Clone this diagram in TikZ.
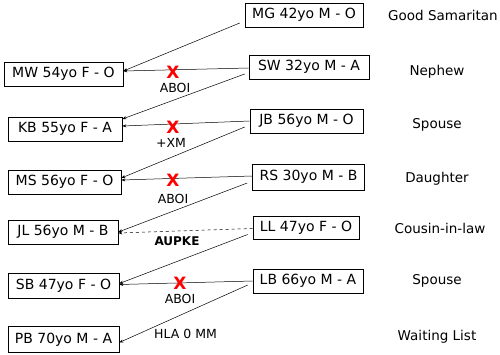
\documentclass[tikz,border=0pt]{standalone}
\usepackage{fontspec}
\setmainfont{DejaVu Sans}
\usetikzlibrary{arrows.meta}
\begin{document}
\begin{tikzpicture}[x=1pt,y=-1pt,
  pbox/.style={draw, line width=0.6pt, inner sep=0pt, minimum height=24pt, font=\fontsize{14}{16}\selectfont},
  rel/.style={inner sep=0pt, font=\fontsize{13.5}{15}\selectfont},
  lab/.style={inner sep=0pt, font=\fontsize{12.5}{14}\selectfont},
  xmark/.style={inner sep=0pt, text=red, font=\fontsize{17}{19}\selectfont\bfseries},
  conn/.style={line width=0.5pt, -{Stealth[length=4pt,width=3pt]}},
]
\useasboundingbox (0,0) rectangle (500,354);
% left boxes
\node[pbox, minimum width=119pt] (MW) at (63.5,74) {MW 54yo F - O};
\node[pbox, minimum width=114pt] (KB) at (65,129) {KB 55yo F - A};
\node[pbox, minimum width=113pt] (MS) at (64.5,182) {MS 56yo F - O};
\node[pbox, minimum width=110pt] (JL) at (63,232) {JL 56yo M - B};
\node[pbox, minimum width=111pt, minimum height=25pt] (SB) at (63.5,285.5) {SB 47yo F - O};
\node[pbox, minimum width=111pt, minimum height=26pt] (PB) at (63.5,339.5) {PB 70yo M - A};
% right boxes
\node[pbox, minimum width=118pt] (MG) at (304,15) {MG 42yo M - O};
\node[pbox, minimum width=120pt] (SW) at (309,67) {SW 32yo M - A};
\node[pbox, minimum width=113pt] (JB) at (306.5,121) {JB 56yo M - O};
\node[pbox, minimum width=112pt, minimum height=26pt] (RS) at (308.5,177) {RS 30yo M - B};
\node[pbox, minimum width=106pt, minimum height=23pt] (LL) at (306,227.5) {LL 47yo F - O};
\node[pbox, minimum width=110pt] (LB) at (308,281) {LB 66yo M - A};
% relation labels
\node[rel] (r1) at (443,15) {Good Samaritan};
\node[rel] (r2) at (437,72) {Nephew};
\node[rel] (r3) at (437,125) {Spouse};
\node[rel] (r4) at (437,179) {Daughter};
\node[rel] (r5) at (440,228) {Cousin-in-law};
\node[rel] (r6) at (437,281) {Spouse};
\node[rel] (r7) at (437,337) {Waiting List};
% connectors
\draw[conn] ([xshift=-5pt,yshift=-8pt]MG.west) -- ([yshift=3pt]MW.east);
\draw[conn] ([yshift=-1pt]SW.west) -- ([yshift=3pt]MW.east);
\draw[conn] ([xshift=-4pt,yshift=-7pt]SW.west) -- ([yshift=10pt]KB.east);
\draw[conn] (JB.west) -- ([yshift=3pt]KB.east);
\draw[conn] ([xshift=-5pt,yshift=-6pt]JB.west) -- ([yshift=4pt]MS.east);
\draw[conn] ([yshift=1pt]RS.west) -- ([yshift=2pt]MS.east);
\draw[conn] ([xshift=-5pt,yshift=-6pt]RS.west) -- (JL.east);
\draw[conn, dashed] ([yshift=-1pt]LL.west) -- ([yshift=-1pt]JL.east);
\draw[conn] ([xshift=-5pt,yshift=-7pt]LL.west) -- ([yshift=2pt]SB.east);
\draw[conn] (LB.west) -- ([yshift=1pt]SB.east);
\draw[conn] ([xshift=-5pt,yshift=-4pt]LB.west) -- ([yshift=-3pt]PB.east);
% red crosses
\node[xmark] (x1) at (173,72) {X};
\node[xmark] (x2) at (173,127) {X};
\node[xmark] (x3) at (173,180) {X};
\node[xmark] (x4) at (180,283) {X};
% link labels
\node[lab] (l1) at (175,88) {ABOI};
\node[lab] (l2) at (171,143) {+XM};
\node[lab] (l3) at (173,199) {ABOI};
\node[lab, font=\fontsize{12}{14}\selectfont\bfseries] (l4) at (177,241) {AUPKE};
\node[lab] (l5) at (180,299) {ABOI};
\node[lab] (l6) at (185.5,334) {HLA 0 MM};
\end{tikzpicture}
\end{document}
